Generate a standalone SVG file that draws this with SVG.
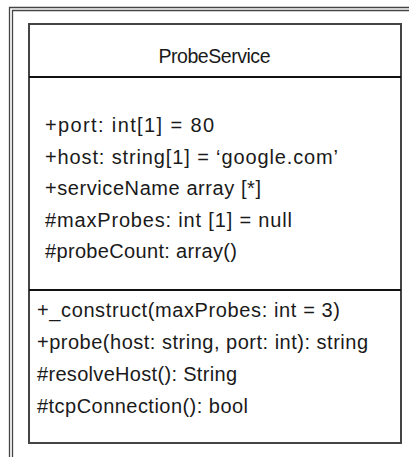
<svg xmlns="http://www.w3.org/2000/svg" width="409" height="457" viewBox="0 0 409 457">
  <style>
    .frame { fill: none; stroke: #444; stroke-width: 1.3; }
    .box { fill: #fff; stroke: #444; stroke-width: 2; }
    .div { stroke: #111; stroke-width: 2; }
    text { font-family: "Liberation Sans", Arial, sans-serif; font-size: 20px; fill: #1a1a1a; }
    .title { font-size: 19.5px; text-anchor: middle; }
  </style>
  <rect width="409" height="457" fill="#fff"/>
  <g id="frame">
    <polyline class="frame" points="9.5,457 9.5,7.5 409,7.5"/>
    <polyline class="frame" points="12.5,457 12.5,10.5 409,10.5"/>
  </g>
  <g id="ProbeService">
    <rect class="box" x="29" y="24" width="372" height="419"/>
    <line class="div" x1="29" y1="77" x2="401" y2="77"/>
    <line class="div" x1="29" y1="290" x2="401" y2="290"/>
    <text class="title" x="214.5" y="63" textLength="112" lengthAdjust="spacing">ProbeService</text>
    <text x="45" y="132" textLength="169" lengthAdjust="spacing">+port: int[1] = 80</text>
    <text x="45" y="163.5" textLength="293" lengthAdjust="spacing">+host: string[1] = ‘google.com’</text>
    <text x="45" y="195" textLength="216" lengthAdjust="spacing">+serviceName array [*]</text>
    <text x="45" y="226.5" textLength="247" lengthAdjust="spacing">#maxProbes: int [1] = null</text>
    <text x="45" y="258" textLength="192" lengthAdjust="spacing">#probeCount: array()</text>
    <text x="37" y="317" textLength="303" lengthAdjust="spacing">+_construct(maxProbes: int = 3)</text>
    <text x="37" y="349" textLength="331" lengthAdjust="spacing">+probe(host: string, port: int): string</text>
    <text x="37" y="381" textLength="200" lengthAdjust="spacing">#resolveHost(): String</text>
    <text x="37" y="413" textLength="211" lengthAdjust="spacing">#tcpConnection(): bool</text>
  </g>
  <g id="connectors"></g>
</svg>
